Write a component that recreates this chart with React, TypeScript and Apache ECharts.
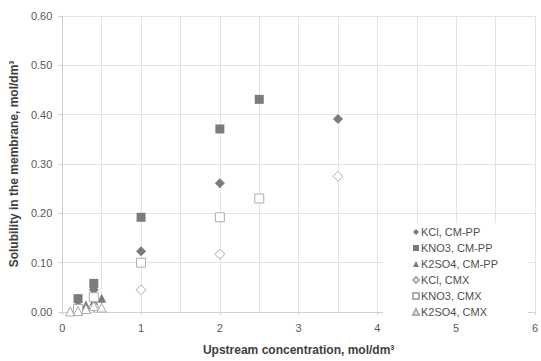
import React, { useEffect, useRef } from "react";
import * as echarts from "echarts";

const seriesNames = [
  "KCl, CM-PP",
  "KNO3, CM-PP",
  "K2SO4, CM-PP",
  "KCl, CMX",
  "KNO3, CMX",
  "K2SO4, CMX",
];

const kclCmpp: [number, number][] = [[0.2, 0.012], [0.4, 0.045], [1, 0.123], [2, 0.261], [3.5, 0.391]];
const kno3Cmpp: [number, number][] = [[0.2, 0.027], [0.4, 0.058], [1, 0.192], [2, 0.371], [2.5, 0.431]];
const k2so4Cmpp: [number, number][] = [[0.1, 0.002], [0.2, 0.004], [0.3, 0.014], [0.4, 0.022], [0.5, 0.028]];
const kclCmx: [number, number][] = [[0.2, 0.003], [0.4, 0.01], [1, 0.045], [2, 0.117], [3.5, 0.275]];
const kno3Cmx: [number, number][] = [[0.2, 0.006], [0.4, 0.03], [1, 0.1], [2, 0.192], [2.5, 0.23]];
const k2so4Cmx: [number, number][] = [[0.1, 0.001], [0.2, 0.002], [0.3, 0.006], [0.4, 0.012], [0.5, 0.009]];

const FONT = "'Liberation Sans', Arial, sans-serif";
const FILL = "#7b7b7b";
const OPEN = "#acacac";
const GRID = "#e3e3e3";

export default function App() {
  const ref = useRef<HTMLDivElement>(null);
  useEffect(() => {
    if (!ref.current) return;
    const chart = echarts.init(ref.current, null, { renderer: "svg" });
    const filled = (name: string, data: [number, number][], symbol: string, size: number) => ({
      name,
      type: "scatter",
      data,
      symbol,
      symbolSize: size,
      itemStyle: { color: FILL, borderWidth: 0, opacity: 1 },
      z: 3,
    });
    const open = (name: string, data: [number, number][], symbol: string, size: number) => ({
      name,
      type: "scatter",
      data,
      symbol,
      symbolSize: size,
      itemStyle: { color: "#ffffff", borderColor: OPEN, borderWidth: 1, opacity: 1 },
      z: 4,
    });
    chart.setOption({
      animation: false,
      backgroundColor: "#ffffff",
      textStyle: { fontFamily: FONT },
      grid: { left: 62, right: 5, top: 16, bottom: 40, containLabel: false },
      legend: {
        orient: "vertical",
        left: 383,
        top: 223,
        padding: [3, 30, 4, 29],
        backgroundColor: "#ffffff",
        itemWidth: 6,
        itemHeight: 6,
        itemGap: 4,
        textStyle: { color: "#505050", fontSize: 11, fontFamily: FONT, lineHeight: 12, padding: [0, 0, 0, -3] },
        data: seriesNames,
        z: 10,
      },
      xAxis: {
        type: "value",
        min: 0,
        max: 6,
        interval: 1,
        name: "Upstream concentration, mol/dm³",
        nameLocation: "middle",
        nameGap: 32,
        nameTextStyle: { color: "#404040", fontSize: 12, fontWeight: "bold", fontFamily: FONT },
        axisLine: { show: true, lineStyle: { color: "#d0d0d0", width: 1 } },
        axisTick: { show: true, length: 3, lineStyle: { color: "#d0d0d0" } },
        axisLabel: { color: "#595959", fontSize: 11, margin: 10, fontFamily: FONT },
        splitLine: { show: true, lineStyle: { color: GRID, width: 1 } },
        minorTick: { show: false, splitNumber: 2 },
        minorSplitLine: { show: true, lineStyle: { color: GRID, width: 1 } },
      },
      yAxis: {
        type: "value",
        min: 0,
        max: 0.6,
        interval: 0.1,
        name: "Solubility in the membrane, mol/dm³",
        nameLocation: "middle",
        nameGap: 42,
        nameTextStyle: { color: "#404040", fontSize: 12, fontWeight: "bold", fontFamily: FONT },
        axisLine: { show: true, lineStyle: { color: "#d0d0d0", width: 1 } },
        axisTick: { show: true, length: 4, lineStyle: { color: "#d0d0d0" } },
        axisLabel: {
          color: "#595959",
          fontSize: 11,
          margin: 10,
          fontFamily: FONT,
          formatter: (v: number) => v.toFixed(2),
        },
        splitLine: { show: true, lineStyle: { color: GRID, width: 1 } },
      },
      series: [
        filled(seriesNames[0], kclCmpp, "diamond", 10),
        filled(seriesNames[1], kno3Cmpp, "rect", 9),
        filled(seriesNames[2], k2so4Cmpp, "triangle", 9),
        open(seriesNames[3], kclCmx, "diamond", 10),
        open(seriesNames[4], kno3Cmx, "rect", 9),
        open(seriesNames[5], k2so4Cmx, "triangle", 9),
      ],
    });
    return () => chart.dispose();
  }, []);
  return <div ref={ref} style={{ width: 541, height: 361, position: "absolute", left: 0, top: 0 }} />;
}
